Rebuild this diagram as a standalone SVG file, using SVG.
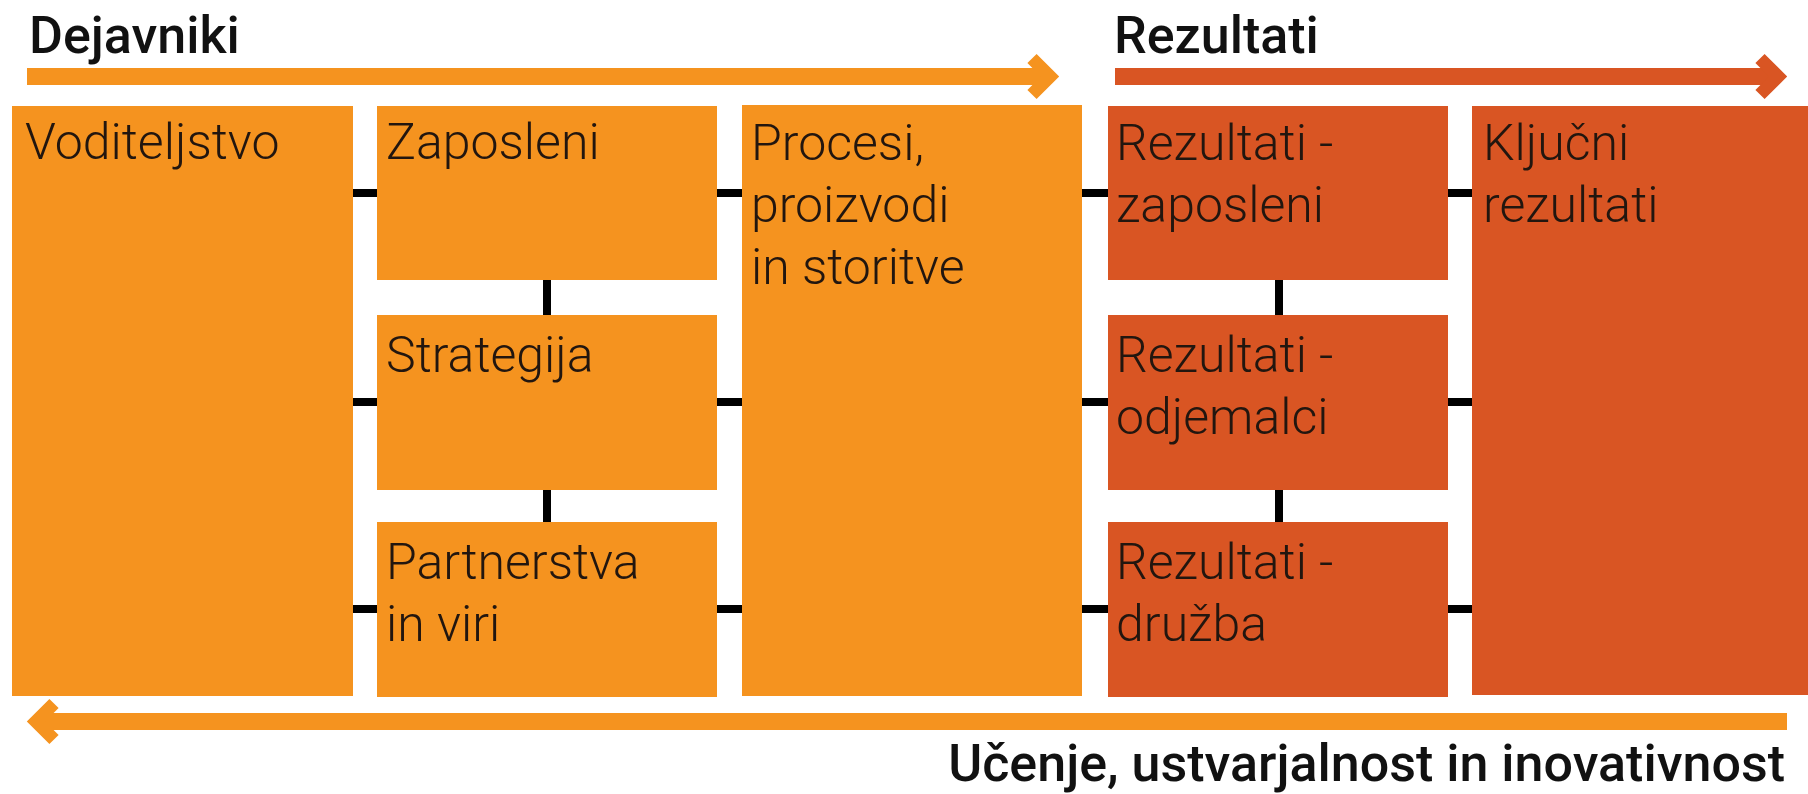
<svg xmlns="http://www.w3.org/2000/svg" width="1808" height="794" viewBox="0 0 1808 794">
  <style>
    .o { fill: #F5931F; }
    .r { fill: #D95523; }
    .lbl { font-family: Roboto, "Liberation Sans", Arial, sans-serif; font-size: 50px; font-weight: 300; fill: #22160f; }
    .hdr { font-family: Roboto, "Liberation Sans", Arial, sans-serif; font-size: 52px; font-weight: 500; fill: #111111; }
    .con { stroke: #000000; stroke-width: 8; fill: none; }
    .barO { stroke: #F5931F; stroke-width: 17; fill: none; }
    .barR { stroke: #D95523; stroke-width: 17; fill: none; }
  </style>
  <defs>
    <marker id="headO" markerUnits="userSpaceOnUse" markerWidth="60" markerHeight="60" viewBox="-30 -30 60 60" refX="0" refY="0" orient="auto" overflow="visible">
      <polyline points="-18,-18 0,0 -18,18" fill="none" stroke="#F5931F" stroke-width="13" stroke-linejoin="miter"/>
    </marker>
    <marker id="headR" markerUnits="userSpaceOnUse" markerWidth="60" markerHeight="60" viewBox="-30 -30 60 60" refX="0" refY="0" orient="auto" overflow="visible">
      <polyline points="-18,-18 0,0 -18,18" fill="none" stroke="#D95523" stroke-width="13" stroke-linejoin="miter"/>
    </marker>
  </defs>
  <rect width="1808" height="794" fill="#ffffff"/>

  <g id="headers">
    <text class="hdr" x="29" y="53">Dejavniki</text>
    <text class="hdr" x="1114" y="53">Rezultati</text>
    <text class="hdr" x="1785" y="781" text-anchor="end">Učenje, ustvarjalnost in inovativnost</text>
  </g>

  <g id="arrows">
    <line class="barO" x1="27" y1="76.5" x2="1050" y2="76.5" marker-end="url(#headO)"/>
    <line class="barR" x1="1115" y1="76.5" x2="1778" y2="76.5" marker-end="url(#headR)"/>
    <line class="barO" x1="1787" y1="721.5" x2="36" y2="721.5" marker-end="url(#headO)"/>
  </g>

  <g id="connectors">
    <line class="con" x1="353" y1="193" x2="377" y2="193"/>
    <line class="con" x1="353" y1="402" x2="377" y2="402"/>
    <line class="con" x1="353" y1="609" x2="377" y2="609"/>
    <line class="con" x1="717" y1="193" x2="742" y2="193"/>
    <line class="con" x1="717" y1="402" x2="742" y2="402"/>
    <line class="con" x1="717" y1="609" x2="742" y2="609"/>
    <line class="con" x1="1082" y1="193" x2="1108" y2="193"/>
    <line class="con" x1="1082" y1="402" x2="1108" y2="402"/>
    <line class="con" x1="1082" y1="609" x2="1108" y2="609"/>
    <line class="con" x1="1448" y1="193" x2="1472" y2="193"/>
    <line class="con" x1="1448" y1="402" x2="1472" y2="402"/>
    <line class="con" x1="1448" y1="609" x2="1472" y2="609"/>
    <line class="con" x1="547" y1="280" x2="547" y2="315"/>
    <line class="con" x1="547" y1="490" x2="547" y2="522"/>
    <line class="con" x1="1279" y1="280" x2="1279" y2="315"/>
    <line class="con" x1="1279" y1="490" x2="1279" y2="522"/>
  </g>

  <g id="voditeljstvo">
    <rect class="o" x="12" y="106" width="341" height="590"/>
    <text class="lbl" x="25" y="159">Voditeljstvo</text>
  </g>
  <g id="zaposleni">
    <rect class="o" x="377" y="106" width="340" height="174"/>
    <text class="lbl" x="386" y="159">Zaposleni</text>
  </g>
  <g id="strategija">
    <rect class="o" x="377" y="315" width="340" height="175"/>
    <text class="lbl" x="386" y="372">Strategija</text>
  </g>
  <g id="partnerstva">
    <rect class="o" x="377" y="522" width="340" height="175"/>
    <text class="lbl" x="386" y="579">Partnerstva<tspan x="386" y="641">in viri</tspan></text>
  </g>
  <g id="procesi">
    <rect class="o" x="742" y="105" width="340" height="591"/>
    <text class="lbl" x="751" y="160">Procesi,<tspan x="751" y="222">proizvodi</tspan><tspan x="751" y="284">in storitve</tspan></text>
  </g>
  <g id="rez-zaposleni">
    <rect class="r" x="1108" y="106" width="340" height="174"/>
    <text class="lbl" x="1116" y="160">Rezultati -<tspan x="1116" y="222">zaposleni</tspan></text>
  </g>
  <g id="rez-odjemalci">
    <rect class="r" x="1108" y="315" width="340" height="175"/>
    <text class="lbl" x="1116" y="372">Rezultati -<tspan x="1116" y="434">odjemalci</tspan></text>
  </g>
  <g id="rez-druzba">
    <rect class="r" x="1108" y="522" width="340" height="175"/>
    <text class="lbl" x="1116" y="579">Rezultati -<tspan x="1116" y="641">družba</tspan></text>
  </g>
  <g id="kljucni">
    <rect class="r" x="1472" y="106" width="336" height="589"/>
    <text class="lbl" x="1483" y="160">Ključni<tspan x="1483" y="222">rezultati</tspan></text>
  </g>
</svg>
